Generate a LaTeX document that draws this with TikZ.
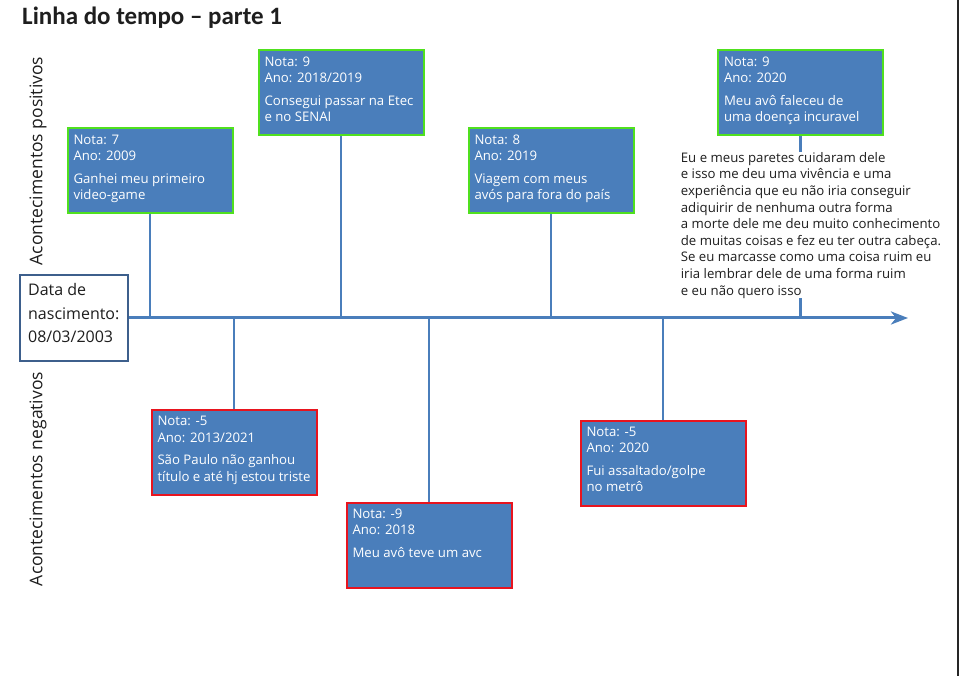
\documentclass[tikz,border=0pt]{standalone}
\usepackage{fontspec}
\setmainfont{Open Sans}
\newfontfamily\titlefont{Carlito}
\usetikzlibrary{arrows.meta}
\definecolor{boxblue}{RGB}{74,126,187}
\definecolor{posgreen}{RGB}{80,224,30}
\definecolor{negred}{RGB}{232,20,30}
\definecolor{dobborder}{RGB}{61,95,140}
\definecolor{inktext}{RGB}{30,30,30}
\pgfdeclarelayer{paper}
\pgfdeclarelayer{lines}
\pgfsetlayers{paper,lines,main}
\newcommand\evt[1]{\parbox[t][85pt][t]{153pt}{\fontsize{13.2}{16.3}\selectfont\rule{0pt}{15.7pt}#1}}
\tikzset{
  evbox/.style={draw=#1, line width=2pt, fill=boxblue, anchor=north west,
    inner xsep=6pt, inner ysep=0pt, text=white, rectangle},
  stem/.style={draw=boxblue, line width=2.8pt},
  timeline/.style={draw=boxblue, line width=3pt, -{Stealth[length=17pt,width=13pt,inset=5pt]}},
  sidelabel/.style={rotate=90, text=inktext, font=\fontsize{17.5}{20}\selectfont, inner sep=0pt},
}
\begin{document}
\begin{tikzpicture}[x=1pt,y=-1pt]
\useasboundingbox (0,0) rectangle (959,676);
\begin{pgfonlayer}{paper}
  \fill[white] (0,0) rectangle (959,676);
  \draw[line width=2pt, black!85] (957.5,0) -- (957.5,676);
\end{pgfonlayer}

% title
\node[anchor=base west, inner sep=0pt, text=inktext,
  font=\titlefont\bfseries\fontsize{25}{30}\selectfont] (title) at (22,25) {Linha do tempo – parte 1};

% side labels
\node[sidelabel] (lpos) at (38,161) {Acontecimentos positivos};
\node[sidelabel] (lneg) at (38,479) {Acontecimentos negativos};

% date of birth
\node[draw=dobborder, line width=2pt, fill=white, anchor=north west, inner xsep=7.85pt,
  inner ysep=0pt, text=inktext] (dob) at (19.3,274)
  {\parbox[t][86pt][t]{92pt}{\fontsize{16}{23.3}\selectfont\rule{0pt}{21pt}Data de\\nascimento:\\08/03/2003}};

% positive events
\node[evbox=posgreen] (p1) at (66.5,127.5) {\evt{Nota: 7\\Ano: 2009\\[6.5pt]Ganhei meu primeiro\\video-game}};
\node[evbox=posgreen] (p2) at (257.5,49.5) {\evt{Nota: 9\\Ano: 2018/2019\\[6.5pt]Consegui passar na Etec\\e no SENAI}};
\node[evbox=posgreen] (p3) at (467.5,127.5) {\evt{Nota: 8\\Ano: 2019\\[6.5pt]Viagem com meus\\avós para fora do país}};
\node[evbox=posgreen] (p4) at (717,49.5) {\evt{Nota: 9\\Ano: 2020\\[6.5pt]Meu avô faleceu de\\uma doença incuravel}};

% negative events
\node[evbox=negred] (n1) at (150.5,409) {\evt{Nota: -5\\Ano: 2013/2021\\[6.5pt]São Paulo não ganhou\\título e até hj estou triste}};
\node[evbox=negred] (n2) at (345.5,501.5) {\evt{Nota: -9\\Ano: 2018\\[6.5pt]Meu avô teve um avc}};
\node[evbox=negred] (n3) at (579.5,419.5) {\evt{Nota: -5\\Ano: 2020\\[6.5pt]Fui assaltado/golpe\\no metrô}};

\coordinate (tend) at (908,318);

\begin{pgfonlayer}{lines}
  \draw[timeline] (dob.east) -- (tend);
  \foreach \b in {p1,p2,p3,p4} \draw[stem] (\b.south) -- (\b.south |- dob.east);
  \foreach \b in {n1,n2,n3} \draw[stem] (\b.north) -- (\b.north |- dob.east);
\end{pgfonlayer}

% comment paragraph
\node[anchor=north west, inner sep=0pt, fill=white, text=inktext] (para) at (680.7,152)
  {\parbox[t]{262pt}{\fontsize{13.2}{16.6}\selectfont\rule{0pt}{9pt}Eu e meus paretes cuidaram dele\\
  e isso me deu uma vivência e uma\\
  experiência que eu não iria conseguir\\
  adiquirir de nenhuma outra forma\\
  a morte dele me deu muito conhecimento\\
  de muitas coisas e fez eu ter outra cabeça.\\
  Se eu marcasse como uma coisa ruim eu\\
  iria lembrar dele de uma forma ruim\\
  e eu não quero isso}};
\end{tikzpicture}
\end{document}
